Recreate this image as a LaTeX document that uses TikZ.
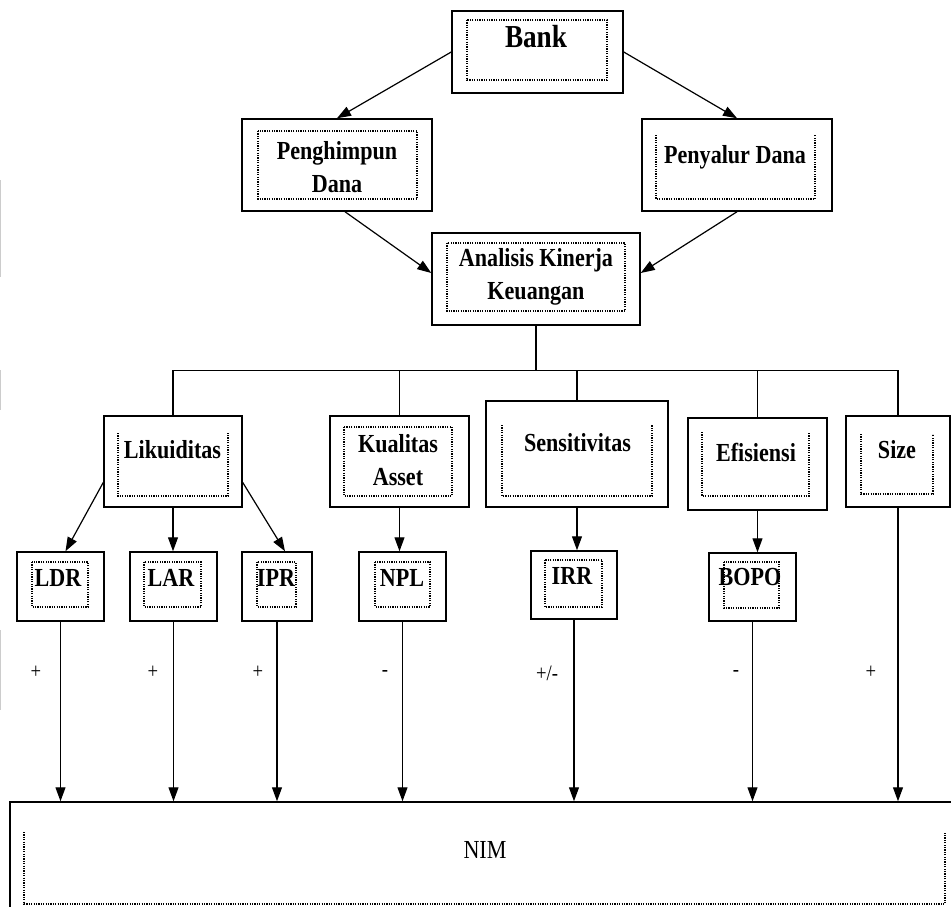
\documentclass[tikz,border=0pt]{standalone}
\usepackage{fontspec}
\setmainfont{Liberation Serif}[FakeStretch=0.85]
\usetikzlibrary{arrows.meta}

\begin{document}
\begin{tikzpicture}[x=1pt,y=-1pt,
  box/.style={draw,line width=1.5pt,inner sep=0pt},
  dots/.style={line width=1.3pt,dash pattern=on 1.2pt off 1.2pt},
  txt/.style={font=\fontsize{26}{33}\selectfont\bfseries,align=center,inner sep=0pt},
  sign/.style={font=\fontsize{22}{24}\selectfont,inner sep=0pt},
  arr/.style={line width=1.2pt,-{Triangle[length=14pt,width=10pt]}},
  link/.style={line width=1.2pt}]

\useasboundingbox (0,0) rectangle (951,907);
\clip (0,0) rectangle (951,907);
\fill[white] (0,0) rectangle (951,907);

% Top
\node[box,minimum width=171,minimum height=82] (bank) at (537.5,52) {};
\draw[dots] (467,20) rectangle (607,80);
\node[txt,font=\fontsize{32}{34}\selectfont\bfseries,anchor=base] (bankt) at (536,48) {Bank};

\node[box,minimum width=190,minimum height=92] (hd) at (337,165) {};
\draw[dots] (258,131) rectangle (417,199);
\node[txt] (hdt) at (337,167) {Penghimpun\\Dana};

\node[box,minimum width=190,minimum height=92] (pd) at (737,165) {};
\draw[dots] (656,135) -- (656,199) -- (815,199) -- (815,135);
\node[txt,anchor=base] (pdt) at (735,163) {Penyalur Dana};

\node[box,minimum width=208,minimum height=92] (akk) at (536,279) {};
\draw[dots] (447,243) rectangle (625,311);
\node[txt] (akkt) at (536,277) {Analisis Kinerja\\Keuangan};

% Variabel
\node[box,minimum width=138,minimum height=91] (lik) at (173,461.5) {};
\draw[dots] (118,433) -- (118,496) -- (228,496) -- (228,433);
\node[txt,anchor=base] (likt) at (172.5,458) {Likuiditas};

\node[box,minimum width=139,minimum height=91] (kua) at (399.5,461.5) {};
\draw[dots] (344,427) rectangle (452,496);
\node[txt] (kuat) at (398,460) {Kualitas\\Asset};

\node[box,minimum width=182,minimum height=106] (sen) at (577,454) {};
\draw[dots] (502,425) -- (502,496) -- (652,496) -- (652,425);
\node[txt,anchor=base] (sent) at (577.5,451) {Sensitivitas};

\node[box,minimum width=139,minimum height=92] (efi) at (757.5,464) {};
\draw[dots] (702,432) -- (702,496) -- (809,496) -- (809,432);
\node[txt,anchor=base] (efit) at (756,461) {Efisiensi};

\node[box,minimum width=104,minimum height=91] (size) at (898,461.5) {};
\draw[dots] (861,434) -- (861,494) -- (933,494) -- (933,434);
\node[txt,anchor=base] (sizet) at (897,458) {Size};

% Rasio
\node[box,minimum width=87,minimum height=69] (ldr) at (60.5,586.5) {};
\draw[dots] (32,562) rectangle (88,607);
\node[txt,anchor=base] (ldrt) at (58,586) {LDR};

\node[box,minimum width=87,minimum height=69] (lar) at (173.5,586.5) {};
\draw[dots] (144,562) rectangle (201,607);
\node[txt,anchor=base] (lart) at (171,586) {LAR};

\node[box,minimum width=70,minimum height=69] (ipr) at (277,586.5) {};
\draw[dots] (257,562) rectangle (296,607);
\node[txt,anchor=base] (iprt) at (276,586) {IPR};

\node[box,minimum width=87,minimum height=69] (npl) at (402.5,586.5) {};
\draw[dots] (375,562) rectangle (430,607);
\node[txt,anchor=base] (nplt) at (402,586) {NPL};

\node[box,minimum width=86,minimum height=68] (irr) at (574,585) {};
\draw[dots] (545,560) rectangle (602,607);
\node[txt,anchor=base] (irrt) at (572,584) {IRR};

\node[box,minimum width=87,minimum height=68] (bopo) at (752.5,587) {};
\draw[dots] (724,562) rectangle (779,608);
\node[txt,anchor=base] (bopot) at (750,585) {BOPO};

% NIM
\node[box,minimum width=955,minimum height=113] (nim) at (487.5,858.5) {};
\draw[dots] (24,832) -- (24,904) -- (945,904) -- (945,832);
\node[txt,font=\fontsize{26}{28}\selectfont,anchor=base] (nimt) at (485,858) {NIM};

% Panah atas
\draw[arr] (bank.west) -- (hd.north);
\draw[arr] (bank.east) -- (pd.north);
\draw[arr] ([xshift=8pt]hd.south) -- ([yshift=6pt]akk.west);
\draw[arr] (pd.south) -- ([yshift=6pt]akk.east);

% Cabang
\draw[link] (akk.south) -- ++(0,45) coordinate (bus);
\draw[link] (lik.north) |- (bus) -| (size.north);
\draw[link] (kua.north) -- (kua.north |- bus);
\draw[link] (sen.north) -- (sen.north |- bus);
\draw[link] (efi.north) -- (efi.north |- bus);

\draw[arr] ([yshift=-21pt]lik.west) -- ([xshift=5pt]ldr.north);
\draw[arr] (lik.south) -- (lik.south |- lar.north);
\draw[arr] ([yshift=-21pt]lik.east) -- ([xshift=8pt]ipr.north);
\draw[arr] (kua.south) -- (kua.south |- npl.north);
\draw[arr] (sen.south) -- (sen.south |- irr.north);
\draw[arr] (efi.south) -- (efi.south |- bopo.north);

% Ke NIM
\foreach \n in {ldr,lar,ipr,npl,irr,bopo,size}
  \draw[arr] (\n.south) -- (\n.south |- nim.north);

% Tanda
\node[sign] (s1) at (36,672) {+};
\node[sign] (s2) at (153,672) {+};
\node[sign] (s3) at (258,672) {+};
\node[sign] (s4) at (385,673) {-};
\node[sign] (s5) at (547,673) {+/-};
\node[sign] (s6) at (736,673) {-};
\node[sign] (s7) at (871,672) {+};

% Tepi kiri
\draw[gray!40,line width=1pt] (0.5,180) -- (0.5,277);
\draw[gray!40,line width=1pt] (0.5,370) -- (0.5,410);
\draw[gray!40,line width=1pt] (0.5,630) -- (0.5,710);

\end{tikzpicture}
\end{document}
